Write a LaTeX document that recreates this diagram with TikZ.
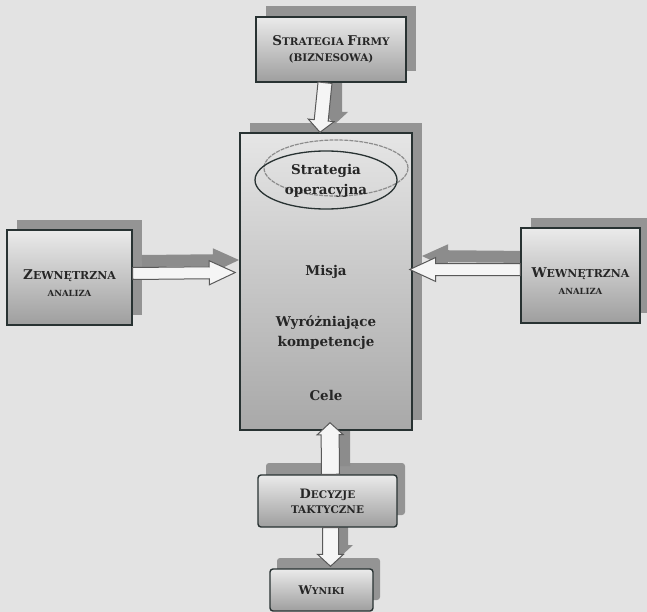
\documentclass[tikz,border=0pt]{standalone}
\usepackage{fontspec}
\setmainfont{DejaVu Serif}
\usetikzlibrary{calc}

\definecolor{paper}{gray}{0.89}
\definecolor{edge}{RGB}{40,50,50}

% caps-and-small-caps word: #1 initial size, #2 rest size, #3 initial, #4 rest
\newcommand\fsc[4]{{\fontsize{#1}{#1}\selectfont #3}{\fontsize{#2}{#2}\selectfont #4}}

% block arrow: #1 style, #2 start, #3 tip, #4 shaft half-width, #5 head half-width, #6 head length
\newcommand\blockarrow[6]{%
  \coordinate (bahead) at ($(#3)!#6!(#2)$);
  \path[#1] ($(#2)!#4!90:(#3)$) -- ($(bahead)!#4!90:(#3)$) -- ($(bahead)!#5!90:(#3)$)
    -- (#3) -- ($(bahead)!#5!-90:(#3)$) -- ($(bahead)!#4!-90:(#3)$)
    -- ($(#2)!#4!-90:(#3)$) -- cycle;
}

\tikzset{
  shadowbox/.style={draw=none, fill=black!42, inner sep=0pt},
  frontbox/.style={draw=edge, line width=1.4bp, top color=black!8, bottom color=black!38, inner sep=0pt,
    font=\bfseries, align=center, text=black!85},
  boxlabel/.style={font=\bfseries, align=center, text=black!85, inner sep=0pt},
  mainbox/.style={draw=edge, line width=1.4bp, top color=black!10, middle color=black!30, bottom color=black!34, inner sep=0pt},
  maintext/.style={font=\bfseries\fontsize{13.5}{20}\selectfont, align=center, text=black!85},
  arrowfront/.style={draw=black!65, line width=1bp, fill=black!4, line join=miter},
  arrowshadow/.style={fill=black!45},
}

\begin{document}
\begin{tikzpicture}[x=1bp,y=-1bp]
\fill[paper] (0,0) rectangle (647,612);
\useasboundingbox (0,0) rectangle (647,612);

% shadows behind the boxes
\node[shadowbox, minimum width=150bp, minimum height=65bp] (topS) at (341,38.5) {};
\node[shadowbox, minimum width=172bp, minimum height=297bp] (mainS) at (336,271.5) {};
\node[shadowbox, minimum width=125bp, minimum height=95bp] (zewS) at (79.5,267.5) {};
\node[shadowbox, minimum width=119bp, minimum height=95bp] (wewS) at (590.5,265.5) {};
\node[shadowbox, minimum width=139bp, minimum height=52bp, rounded corners=3bp] (decS) at (335.5,489) {};
\node[shadowbox, minimum width=103bp, minimum height=42bp, rounded corners=3bp] (wynS) at (328.5,579) {};

% shadow arrows
\coordinate (a1s) at (335,72);  \coordinate (b1s) at (335,124);
\coordinate (a2s) at (142,261); \coordinate (b2s) at (239,260);
\coordinate (a3s) at (531,257); \coordinate (b3s) at (422,256);
\coordinate (a4s) at (341,466); \coordinate (b4s) at (341,414);
\coordinate (a5s) at (340,515); \coordinate (b5s) at (340,557);
\blockarrow{arrowshadow}{a1s}{b1s}{7bp}{13bp}{12bp}
\blockarrow{arrowshadow}{a2s}{b2s}{6bp}{12bp}{26bp}
\blockarrow{arrowshadow}{a3s}{b3s}{6bp}{12bp}{26bp}
\blockarrow{arrowshadow}{a4s}{b4s}{9bp}{13bp}{12bp}
\blockarrow{arrowshadow}{a5s}{b5s}{8bp}{13bp}{12bp}

% boxes
\node[frontbox, minimum width=150bp, minimum height=65bp] (top) at (331,49.5)
  {\fsc{13.5}{10.5}{S}{TRATEGIA} \fsc{13.5}{10.5}{F}{IRMY}\\[4pt]{\fontsize{10.5}{11}\selectfont (BIZNESOWA)}};
\node[mainbox, minimum width=172bp, minimum height=297bp] (main) at (326,281.5) {};
\node[frontbox, minimum width=125bp, minimum height=95bp] (zew) at (69.5,277.5) {};
\node[frontbox, minimum width=119bp, minimum height=95bp] (wew) at (580.5,275.5) {};
\node[boxlabel] (zewT) at ($(zew.center)+(0,6)$)
  {\fsc{13.5}{11}{Z}{EWNĘTRZNA}\\[5pt]{\fontsize{8.5}{9}\selectfont ANALIZA}};
\node[boxlabel] (wewT) at ($(wew.center)+(0,6)$)
  {\fsc{13.5}{11}{W}{EWNĘTRZNA}\\[5pt]{\fontsize{8.5}{9}\selectfont ANALIZA}};
\node[frontbox, minimum width=139bp, minimum height=52bp, rounded corners=3bp] (dec) at (327.5,501)
  {\fsc{13}{10.5}{D}{ECYZJE}\\[3pt]{\fontsize{10.5}{11}\selectfont TAKTYCZNE}};
\node[frontbox, minimum width=103bp, minimum height=42bp, rounded corners=3bp] (wyn) at (321.5,590)
  {\fsc{12}{9.5}{W}{YNIKI}};

% ellipse round the operations strategy
\draw[black!45, line width=1.2bp, dash pattern=on 4bp off 1bp] (336,168) ellipse [x radius=72bp, y radius=28bp];
\draw[edge, line width=1.3bp] (326,180) ellipse [x radius=71bp, y radius=29bp];
\node[maintext] (strat) at (326,181) {Strategia\\operacyjna};
\node[maintext] (misja) at (326,272) {Misja};
\node[maintext] (komp) at (326,333) {Wyróżniające\\kompetencje};
\node[maintext] (cele) at (326,395) {Cele};

% front arrows between the boxes
\coordinate (a1) at ($(top.south)+(-6,0)$);  \coordinate (b1) at ($(main.north)+(-6,0)$);
\coordinate (a2) at ($(zew.east)+(0,-4)$);   \coordinate (b2) at ($(main.west)+(-4,-9)$);
\coordinate (a3) at ($(wew.west)+(0,-6)$);   \coordinate (b3) at ($(main.east)+(-3,-12)$);
\coordinate (a4) at ($(dec.north)+(3,0)$);   \coordinate (b4) at ($(main.south)+(4,-8)$);
\coordinate (a5) at ($(dec.south)+(3,0)$);   \coordinate (b5) at ($(wyn.north)+(9,-2)$);
\blockarrow{arrowfront}{a1}{b1}{7bp}{13bp}{12bp}
\blockarrow{arrowfront}{a2}{b2}{6bp}{12bp}{26bp}
\blockarrow{arrowfront}{a3}{b3}{6bp}{12bp}{26bp}
\blockarrow{arrowfront}{a4}{b4}{9bp}{13bp}{12bp}
\blockarrow{arrowfront}{a5}{b5}{8bp}{13bp}{12bp}
\end{tikzpicture}
\end{document}
